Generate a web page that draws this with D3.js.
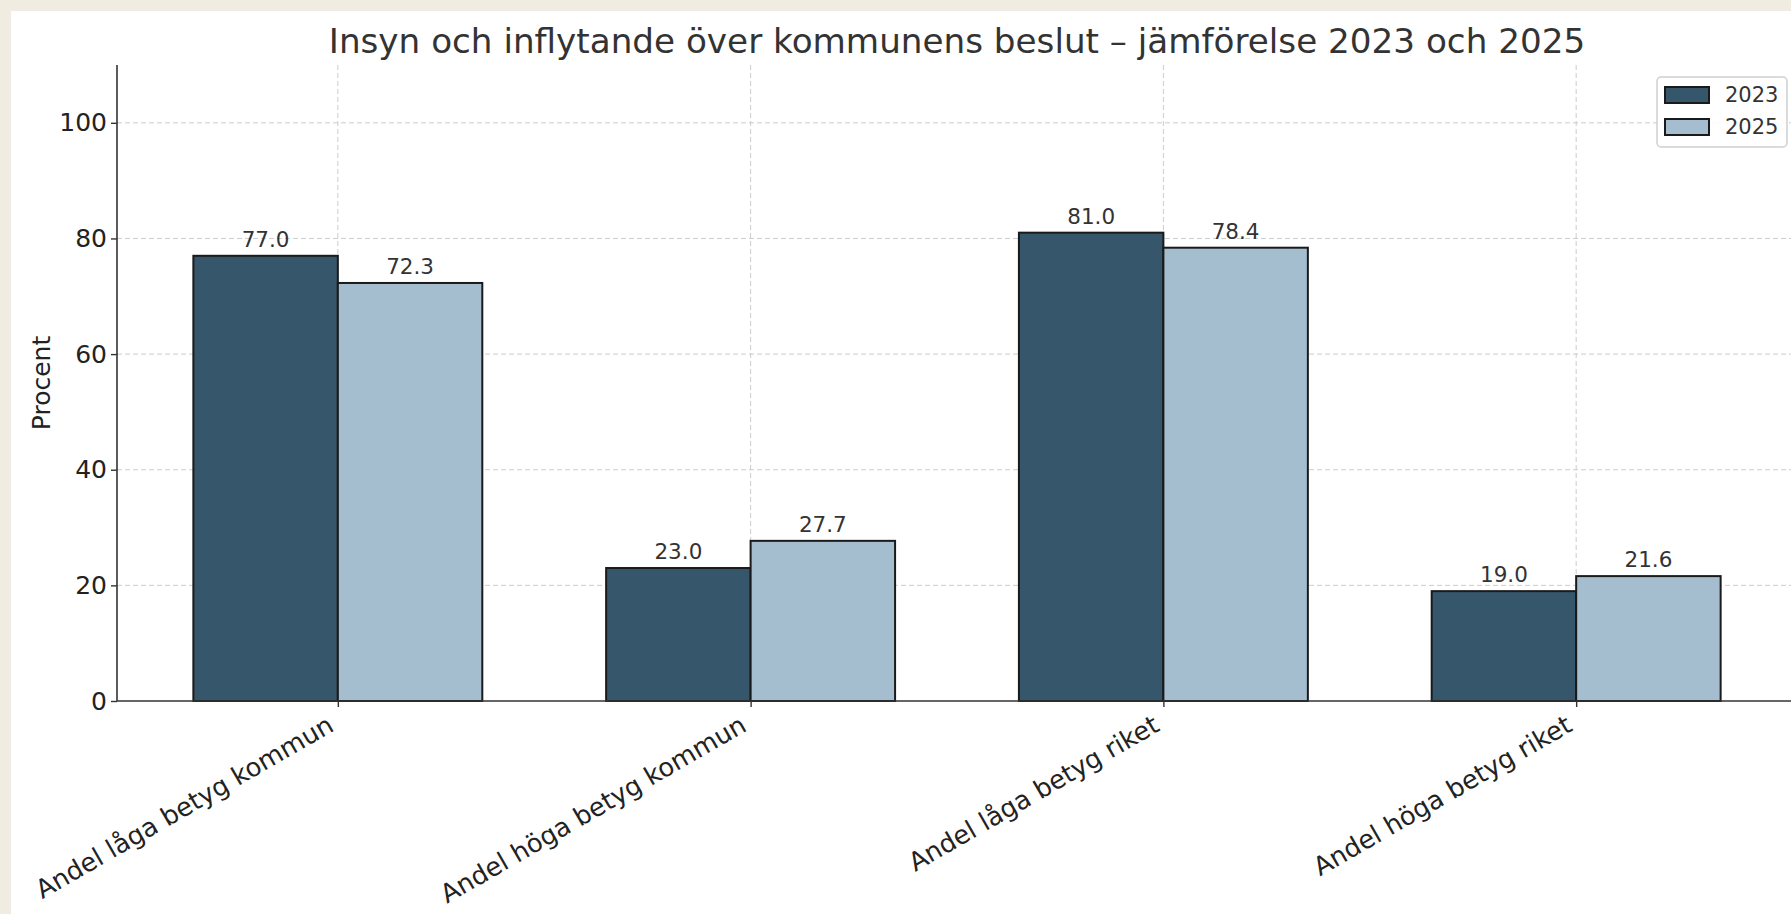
<!DOCTYPE html>
<html>
<head>
<meta charset="utf-8">
<script src="https://cdn.jsdelivr.net/npm/d3@7"></script>
<style>
  body { margin: 0; background: #f0ece2; }
  svg { display: block; font-family: "DejaVu Sans", sans-serif; }
</style>
</head>
<body>
<div id="chart"></div>
<script>
// data
const categories = ["Andel låga betyg kommun", "Andel höga betyg kommun", "Andel låga betyg riket", "Andel höga betyg riket"];
const years = ["2023", "2025"];
const values2023 = [77.0, 23.0, 81.0, 19.0];
const values2025 = [72.3, 27.7, 78.4, 21.6];
const yTicks = [0, 20, 40, 60, 80, 100];
const colors = ["#36566b", "#a4bed0"];

const width = 1791, height = 914;
const plotLeft = 117, plotRight = 1797, plotTop = 65, plotBottom = 701;
const barW = 0.35;

const svg = d3.select("#chart").append("svg")
    .attr("width", width)
    .attr("height", height);

// beige page + white figure panel
svg.append("rect").attr("width", width).attr("height", height).attr("fill", "#f0ece2");
svg.append("rect").attr("x", 11).attr("y", 11).attr("width", width).attr("height", height).attr("fill", "#fff");

const x = d3.scaleLinear().domain([-0.535, categories.length - 1 + 0.535]).range([plotLeft, plotRight]);
const y = d3.scaleLinear().domain([0, 110]).range([plotBottom, plotTop]);

// grid
const grid = svg.append("g").attr("stroke", "#cccccc").attr("stroke-width", 1).attr("stroke-dasharray", "5,3");
grid.selectAll(".gy").data(yTicks.slice(1)).enter().append("line")
    .attr("x1", plotLeft).attr("x2", width)
    .attr("y1", d => y(d)).attr("y2", d => y(d));
grid.selectAll(".gx").data(categories).enter().append("line")
    .attr("x1", (d, i) => x(i)).attr("x2", (d, i) => x(i))
    .attr("y1", plotTop).attr("y2", plotBottom);

// bars
const series = [values2023, values2025];
series.forEach((vals, s) => {
    svg.append("g").selectAll("rect")
        .data(vals)
        .enter()
        .append("rect")
        .attr("x", (d, i) => x(i - barW + s * barW))
        .attr("y", d => y(d))
        .attr("width", x(barW) - x(0))
        .attr("height", d => y(0) - y(d))
        .attr("fill", colors[s])
        .attr("stroke", "#1a1a1a")
        .attr("stroke-width", 2);

    //value labels
    svg.append("g").selectAll("text")
        .data(vals)
        .enter()
        .append("text")
        .attr("x", (d, i) => x(i - barW / 2 + s * barW))
        .attr("y", d => y(d) - 9)
        .attr("text-anchor", "middle")
        .attr("font-size", 21.5)
        .attr("fill", "#333")
        .text(d => d.toFixed(1));
});

// y axis
const yAxis = svg.append("g")
    .attr("transform", `translate(${plotLeft},0)`)
    .call(d3.axisLeft(y).tickValues(yTicks).tickSize(6).tickPadding(4));
yAxis.select(".domain").attr("d", `M0,${plotTop}V${plotBottom}`).attr("stroke", "#333").attr("stroke-width", 1.6);
yAxis.selectAll(".tick line").attr("stroke", "#333").attr("stroke-width", 1.4);
yAxis.selectAll(".tick text").attr("font-size", 25).attr("fill", "#222").attr("font-family", "DejaVu Sans");

// x axis
const xAxis = svg.append("g")
    .attr("transform", `translate(0,${plotBottom})`)
    .call(d3.axisBottom(x).tickValues(d3.range(categories.length)).tickSize(6).tickFormat(i => categories[i]));
xAxis.select(".domain").attr("d", `M${plotLeft},0H${width}`).attr("stroke", "#333").attr("stroke-width", 1.6);
xAxis.selectAll(".tick line").attr("stroke", "#333").attr("stroke-width", 1.4);
xAxis.selectAll(".tick text")
    .attr("font-size", 25.7)
    .attr("fill", "#222")
    .attr("font-family", "DejaVu Sans")
    .attr("text-anchor", "end")
    .attr("dy", null)
    .attr("y", 0)
    .attr("transform", "translate(-3,29) rotate(-30)");

// y label
svg.append("text")
    .attr("transform", `translate(41,${(plotTop + plotBottom) / 2}) rotate(-90)`)
    .attr("text-anchor", "middle")
    .attr("dominant-baseline", "central")
    .attr("font-size", 25)
    .attr("fill", "#222")
    .text("Procent");

// title
svg.append("text")
    .attr("x", (plotLeft + plotRight) / 2)
    .attr("y", 53)
    .attr("text-anchor", "middle")
    .attr("font-size", 34.2)
    .attr("fill", "#333")
    .text("Insyn och inflytande över kommunens beslut – jämförelse 2023 och 2025");

// legend
const legend = svg.append("g").attr("transform", "translate(1657,77)");
legend.append("rect")
    .attr("width", 130).attr("height", 70).attr("rx", 4)
    .attr("fill", "#fff").attr("fill-opacity", 0.85)
    .attr("stroke", "#d0d0d0").attr("stroke-width", 1.5);
const items = legend.selectAll(".item").data(years).enter().append("g")
    .attr("transform", (d, i) => `translate(8,${18 + i * 32})`);
items.append("rect")
    .attr("x", 0).attr("y", -8).attr("width", 44).attr("height", 16)
    .attr("fill", (d, i) => colors[i])
    .attr("stroke", "#1a1a1a").attr("stroke-width", 2);
items.append("text")
    .attr("x", 60).attr("y", 0)
    .attr("dominant-baseline", "central")
    .attr("font-size", 21)
    .attr("fill", "#333")
    .text(d => d);
</script>
</body>
</html>
